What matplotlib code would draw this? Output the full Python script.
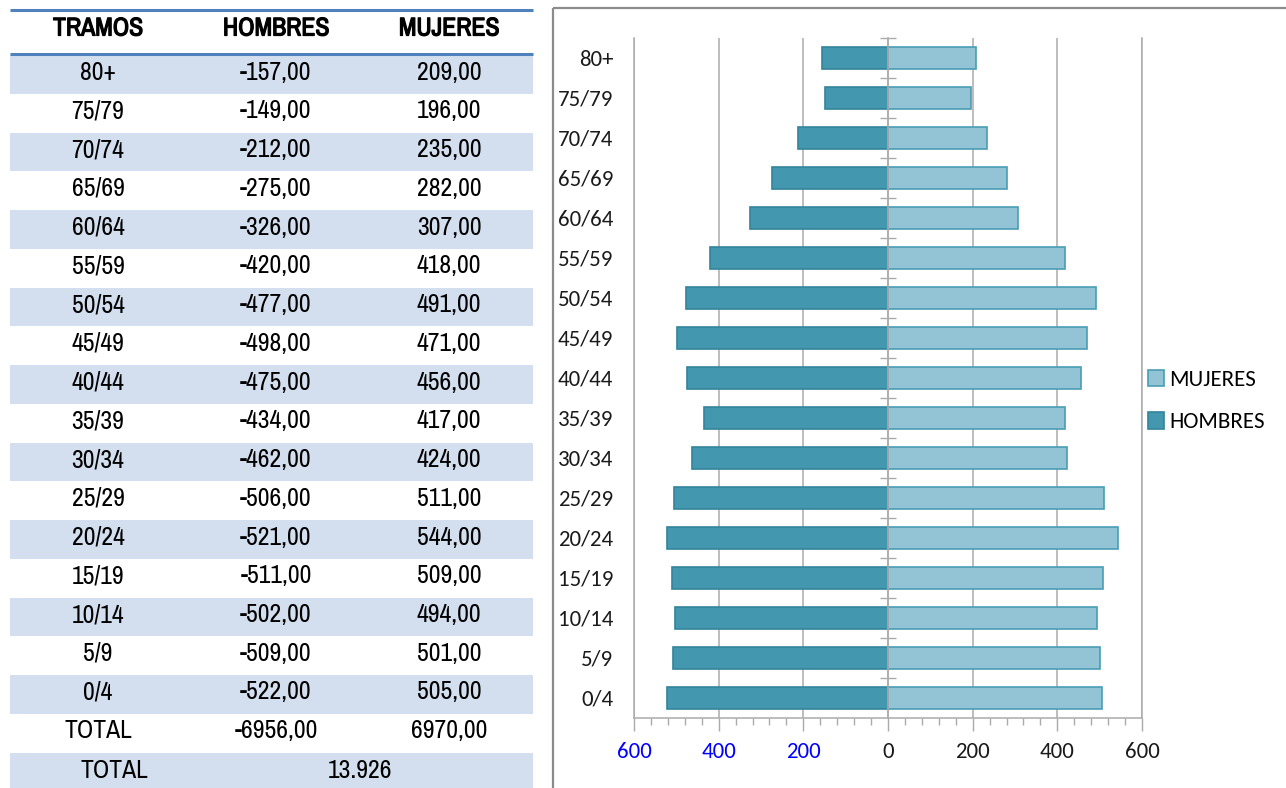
import matplotlib.pyplot as plt
import matplotlib.patheffects as pe
from matplotlib.patches import Rectangle
from matplotlib.ticker import MultipleLocator
import numpy as np

tramos = ["80+", "75/79", "70/74", "65/69", "60/64", "55/59", "50/54", "45/49",
          "40/44", "35/39", "30/34", "25/29", "20/24", "15/19", "10/14", "5/9", "0/4"]
hombres = [-157, -149, -212, -275, -326, -420, -477, -498,
           -475, -434, -462, -506, -521, -511, -502, -509, -522]
mujeres = [209, 196, 235, 282, 307, 418, 491, 471,
           456, 417, 424, 511, 544, 509, 494, 501, 505]
headers = ["TRAMOS", "HOMBRES", "MUJERES"]
x_ticks = [-600, -400, -200, 0, 200, 400, 600]

# Style
W, H = 1286, 788
TABLE_FONT = ["Archivo Narrow", "Liberation Sans", "DejaVu Sans"]
CHART_FONT = ["Carlito", "Lato", "DejaVu Sans"]
COLOR_HOM, EDGE_HOM = "#4397AF", "#31849B"
COLOR_MUJ, EDGE_MUJ = "#93C4D5", "#4A9DB4"
SHADE = "#D3DFEE"
LINE_BLUE = "#4F81BD"
GRID = "#ABABAB"


def fmt(v):
    return f"{v:.2f}".replace(".", ",")


def fmt_miles(v):
    return f"{v:,}".replace(",", ".")


fig = plt.figure(figsize=(W / 100, H / 100), dpi=100)

# Background axes in pixel coordinates: table + chart frame
tab = fig.add_axes([0, 0, 1, 1])
tab.set_xlim(0, W)
tab.set_ylim(H, 0)
tab.axis("off")
tab.patch.set_visible(False)

col_x = [98, 276, 449]
tx0, tx1 = 10, 533
row0, row_h = 55, 38.75
fs = 18.5
bold = [pe.withStroke(linewidth=0.9, foreground="black")]

tab.plot([tx0, tx1], [9.5, 9.5], color=LINE_BLUE, lw=2.2, solid_capstyle="butt")
tab.plot([tx0, tx1], [54, 54], color=LINE_BLUE, lw=2.2, solid_capstyle="butt")
for x, h in zip(col_x, headers):
    tab.text(x, 28, h, ha="center", va="center", fontsize=fs,
             family=TABLE_FONT, path_effects=bold)

rows = [(t, fmt(h), fmt(m)) for t, h, m in zip(tramos, hombres, mujeres)]
rows.append(("TOTAL", fmt(sum(hombres)), fmt(sum(mujeres))))
for i, row in enumerate(rows):
    top = row0 + i * row_h
    if i % 2 == 0:
        tab.add_patch(Rectangle((tx0, top), tx1 - tx0, row_h, color=SHADE, lw=0))
    for x, s in zip(col_x, row):
        tab.text(x, top + 17, s, ha="center", va="center", fontsize=fs, family=TABLE_FONT)

# last merged total row
top = row0 + len(rows) * row_h
tab.add_patch(Rectangle((tx0, top), tx1 - tx0, row_h + 5, color=SHADE, lw=0))
tab.text(114, top + 18, "TOTAL", ha="center", va="center", fontsize=fs, family=TABLE_FONT)
tab.text(360, top + 18, fmt_miles(sum(mujeres) - sum(hombres)), ha="center",
         va="center", fontsize=fs, family=TABLE_FONT)

# chart frame
tab.add_patch(Rectangle((553, 8), 900, 900, fill=False, edgecolor="#8C8C8C", lw=1.6))

# Pyramid chart
ax = fig.add_axes([634 / W, 1 - 718 / H, (1142 - 634) / W, (718 - 38) / H])
ax.patch.set_visible(False)
y = np.arange(len(tramos))[::-1]
b_hom = ax.barh(y, hombres, height=0.55, color=COLOR_HOM, edgecolor=EDGE_HOM, lw=1.2)
b_muj = ax.barh(y, mujeres, height=0.55, color=COLOR_MUJ, edgecolor=EDGE_MUJ, lw=1.2)
ax.set_xlim(x_ticks[0], x_ticks[-1])
ax.set_ylim(-0.5, len(tramos) - 0.5)

ax.set_xticks(x_ticks)
ax.set_xticklabels([str(abs(t)) for t in x_ticks], fontsize=16.5, family=CHART_FONT)
for lbl, t in zip(ax.get_xticklabels(), x_ticks):
    lbl.set_color("#0000FF" if t < 0 else "#1A1A1A")
ax.xaxis.set_minor_locator(MultipleLocator(40))
ax.tick_params(axis="x", which="major", length=9, width=1, color=GRID, pad=8)
ax.tick_params(axis="x", which="minor", length=5, width=1, color=GRID)

ax.set_yticks(y)
ax.set_yticklabels(tramos, fontsize=16.5, family=CHART_FONT, color="#1A1A1A")
ax.tick_params(axis="y", length=0, pad=15)

ax.grid(axis="x", which="major", color=GRID, lw=1.1)
ax.set_axisbelow(True)
ax.spines["top"].set_visible(False)
for s in ("left", "right", "bottom"):
    ax.spines[s].set_color(GRID)
    ax.spines[s].set_linewidth(1.1)

# central axis with cross ticks between groups
secax = ax.secondary_yaxis(0.5)
secax.set_yticks(np.arange(0.5, len(tramos), 1.0))
secax.set_yticklabels([])
secax.tick_params(direction="inout", length=11, width=1, color=GRID)
for s in ("left", "right"):
    secax.spines[s].set_color(GRID)
    secax.spines[s].set_linewidth(1.1)
secax.set_zorder(3)

fig.legend([b_muj, b_hom], ["MUJERES", "HOMBRES"], loc="center left",
           bbox_to_anchor=(1127 / W, 1 - 401 / H), frameon=False,
           handlelength=0.7, handleheight=0.7, handletextpad=0.25,
           labelspacing=1.0, prop={"family": CHART_FONT, "size": 16.5})

fig.savefig("out.png", dpi=100)
